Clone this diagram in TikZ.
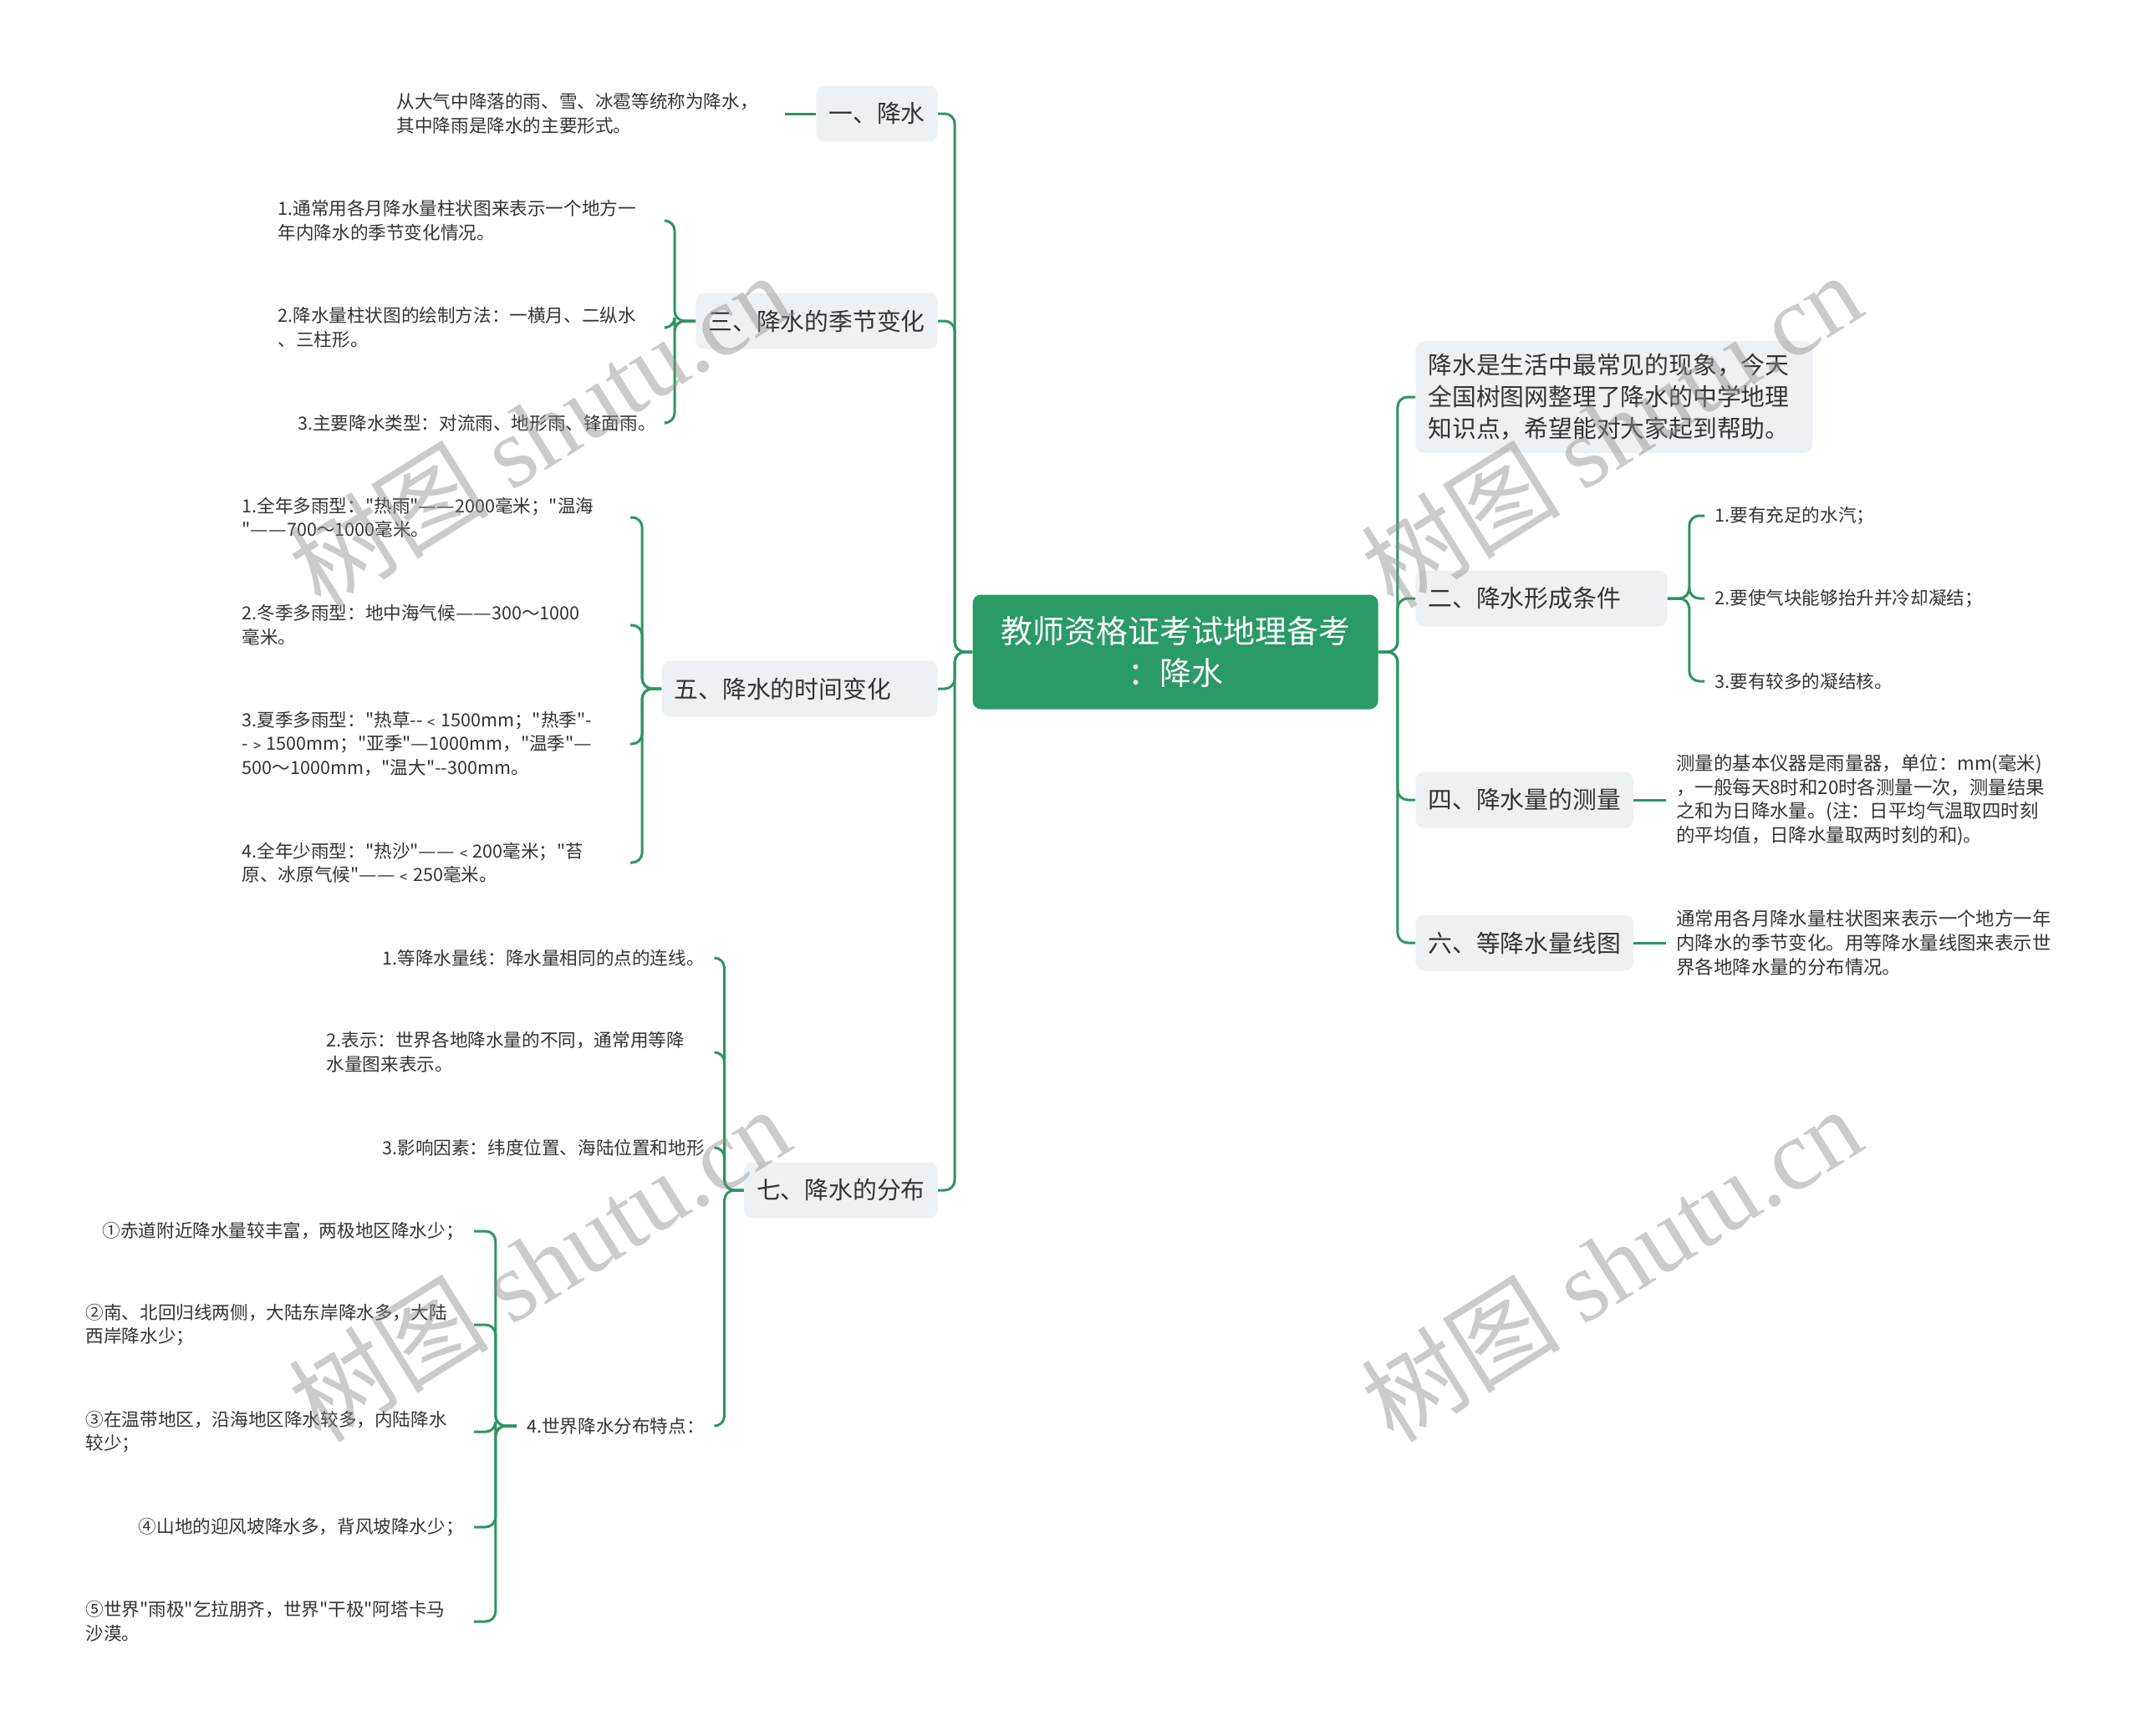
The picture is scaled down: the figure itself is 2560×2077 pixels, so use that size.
\documentclass[tikz,border=0pt]{standalone}
\usepackage{fontspec}
\setmainfont{Noto Sans CJK SC}[Ligatures=TeXOff]
\newfontfamily\latinmark{Liberation Serif}
\usetikzlibrary{positioning}

\definecolor{branchgreen}{HTML}{2E9462}
\definecolor{rootgreen}{HTML}{2A9A66}
\definecolor{topicgray}{HTML}{EEF1F4}
\definecolor{textgray}{HTML}{333333}

\newcommand\cndash{\resizebox{1em}{\height}{—}}

\begin{document}
\begin{tikzpicture}[
        x=0.5pt, y=-0.5pt,
        root/.style={
            fill=rootgreen,
            text=white,
            rounded corners=5pt,
            minimum width=242.5pt,
            minimum height=68.5pt,
            align=center,
            font=\fontsize{19}{25}\selectfont
        },
        topic/.style={
            fill=topicgray,
            text=textgray,
            rounded corners=5pt,
            minimum height=33.5pt,
            inner xsep=7.5pt,
            align=left,
            font=\fontsize{14.4}{18}\selectfont
        },
        leaf/.style={
            text=textgray,
            inner xsep=6pt,
            inner ysep=2pt,
            align=left,
            font=\fontsize{10.8}{14.3}\selectfont
        },
        wide/.style={text width=226pt},
        bigleaf/.style={leaf, font=\fontsize{11.2}{14.3}\selectfont},
        link/.style={draw=branchgreen, line width=1.5pt, rounded corners=6pt},
        wmark/.style={text=black!45, text opacity=0.45, rotate=32, font=\fontsize{60}{60}\selectfont}
    ]

    \useasboundingbox (0,0) rectangle (2560,2077);

    \node[root] (root) at (1406,780) {教师资格证考试地理备考\\：降水};

    \node[topic, anchor=east] (yi) at (1122,136) {一、降水};
    \node[topic, anchor=east] (san) at (1122,384) {三、降水的季节变化};
    \node[topic, anchor=east, text width=150pt] (wu) at (1122,824) {五、降水的时间变化};
    \node[topic, anchor=east] (qi) at (1122,1424) {七、降水的分布};

    \node[topic, anchor=west, text width=222.5pt, minimum height=67pt, font=\fontsize{14.4}{19}\selectfont] (intro) at (1693,475) {降水是生活中最常见的现象，今天\\全国树图网整理了降水的中学地理\\知识点，希望能对大家起到帮助。};
    \node[topic, anchor=west, text width=135.5pt] (er) at (1693,716) {二、降水形成条件};
    \node[topic, anchor=west] (si) at (1693,957) {四、降水量的测量};
    \node[topic, anchor=west] (liu) at (1693,1128) {六、等降水量线图};

    \node[leaf, wide, anchor=east] (yi1) at (939,136) {从大气中降落的雨、雪、冰雹等统称为降水，\\其中降雨是降水的主要形式。};

    \node[leaf, wide, anchor=east] (san1) at (797,264) {1.通常用各月降水量柱状图来表示一个地方一\\年内降水的季节变化情况。};
    \node[leaf, wide, anchor=east] (san2) at (797,392) {2.降水量柱状图的绘制方法：一横月、二纵水\\、三柱形。};
    \node[leaf, anchor=east] (san3) at (797,506) {3.主要降水类型：对流雨、地形雨、锋面雨。};

    \node[leaf, wide, anchor=east] (wu1) at (754,619) {1.全年多雨型："热雨"\cndash\cndash 2000毫米；"温海\\"\cndash\cndash 700～1000毫米。};
    \node[leaf, wide, anchor=east] (wu2) at (754,748) {2.冬季多雨型：地中海气候\cndash\cndash 300～1000\\毫米。};
    \node[leaf, wide, anchor=east] (wu3) at (754,890) {3.夏季多雨型："热草-{}-﹤1500mm；"热季"-\\-﹥1500mm；"亚季"\cndash 1000mm，"温季"\cndash\\500～1000mm，"温大"-{}-300mm。};
    \node[leaf, wide, anchor=east] (wu4) at (754,1032) {4.全年少雨型："热沙"\cndash\cndash﹤200毫米；"苔\\原、冰原气候"\cndash\cndash﹤250毫米。};

    \node[leaf, anchor=east] (qi1) at (855,1146) {1.等降水量线：降水量相同的点的连线。};
    \node[leaf, wide, anchor=east] (qi2) at (855,1259) {2.表示：世界各地降水量的不同，通常用等降\\水量图来表示。};
    \node[leaf, anchor=east] (qi3) at (855,1373) {3.影响因素：纬度位置、海陆位置和地形};
    \node[leaf, anchor=east] (qi4) at (855,1706) {4.世界降水分布特点：};

    \node[leaf, anchor=east] (qi4a) at (567,1473) {①赤道附近降水量较丰富，两极地区降水少；};
    \node[leaf, wide, anchor=east] (qi4b) at (567,1585) {②南、北回归线两侧，大陆东岸降水多，大陆\\西岸降水少；};
    \node[leaf, wide, anchor=east] (qi4c) at (567,1713) {③在温带地区，沿海地区降水较多，内陆降水\\较少；};
    \node[leaf, anchor=east] (qi4d) at (567,1827) {④山地的迎风坡降水多，背风坡降水少；};
    \node[leaf, wide, anchor=east] (qi4e) at (567,1940) {⑤世界"雨极"乞拉朋齐，世界"干极"阿塔卡马\\沙漠。};

    \node[leaf, anchor=west] (er1) at (2039,617) {1.要有充足的水汽；};
    \node[leaf, anchor=west] (er2) at (2039,716) {2.要使气块能够抬升并冷却凝结；};
    \node[leaf, anchor=west] (er3) at (2039,815) {3.要有较多的凝结核。};

    \node[bigleaf, anchor=west] (si1) at (1993,957) {测量的基本仪器是雨量器，单位：mm(毫米)\\，一般每天8时和20时各测量一次，测量结果\\之和为日降水量。(注：日平均气温取四时刻\\的平均值，日降水量取两时刻的和)。};
    \node[bigleaf, anchor=west] (liu1) at (1993,1128) {通常用各月降水量柱状图来表示一个地方一年\\内降水的季节变化。用等降水量线图来表示世\\界各地降水量的分布情况。};

    \draw[link] (root.west) -- ++(-21,0) |- (yi.east);
    \draw[link] (root.west) -- ++(-21,0) |- (san.east);
    \draw[link] (root.west) -- ++(-21,0) |- (wu.east);
    \draw[link] (root.west) -- ++(-21,0) |- (qi.east);

    \draw[link] (root.east) -- ++(23,0) |- (intro.west);
    \draw[link] (root.east) -- ++(23,0) |- (er.west);
    \draw[link] (root.east) -- ++(23,0) |- (si.west);
    \draw[link] (root.east) -- ++(23,0) |- (liu.west);

    \draw[link] (yi.west) -- (yi1.east);

    \draw[link] (san.west) -- ++(-25,0) |- (san1.east);
    \draw[link] (san.west) -- ++(-25,0) |- (san2.east);
    \draw[link] (san.west) -- ++(-25,0) |- (san3.east);

    \draw[link] (wu.west) -- ++(-23,0) |- (wu1.east);
    \draw[link] (wu.west) -- ++(-23,0) |- (wu2.east);
    \draw[link] (wu.west) -- ++(-23,0) |- (wu3.east);
    \draw[link] (wu.west) -- ++(-23,0) |- (wu4.east);

    \draw[link] (qi.west) -- ++(-23,0) |- (qi1.east);
    \draw[link] (qi.west) -- ++(-23,0) |- (qi2.east);
    \draw[link] (qi.west) -- ++(-23,0) |- (qi3.east);
    \draw[link] (qi.west) -- ++(-23,0) |- (qi4.east);

    \draw[link] (qi4.west) -- ++(-25,0) |- (qi4a.east);
    \draw[link] (qi4.west) -- ++(-25,0) |- (qi4b.east);
    \draw[link] (qi4.west) -- ++(-25,0) |- (qi4c.east);
    \draw[link] (qi4.west) -- ++(-25,0) |- (qi4d.east);
    \draw[link] (qi4.west) -- ++(-25,0) |- (qi4e.east);

    \draw[link] (er.east) -- ++(26,0) |- (er1.west);
    \draw[link] (er.east) -- ++(26,0) |- (er2.west);
    \draw[link] (er.east) -- ++(26,0) |- (er3.west);

    \draw[link] (si.east) -- (si1.west);
    \draw[link] (liu.east) -- (liu1.west);

    \node[wmark] (mark1) at (645,514) {树图 {\latinmark shutu.cn}};
    \node[wmark] (mark2) at (1927,514) {树图 {\latinmark shutu.cn}};
    \node[wmark] (mark3) at (645,1512) {树图 {\latinmark shutu.cn}};
    \node[wmark] (mark4) at (1927,1512) {树图 {\latinmark shutu.cn}};

\end{tikzpicture}
\end{document}
